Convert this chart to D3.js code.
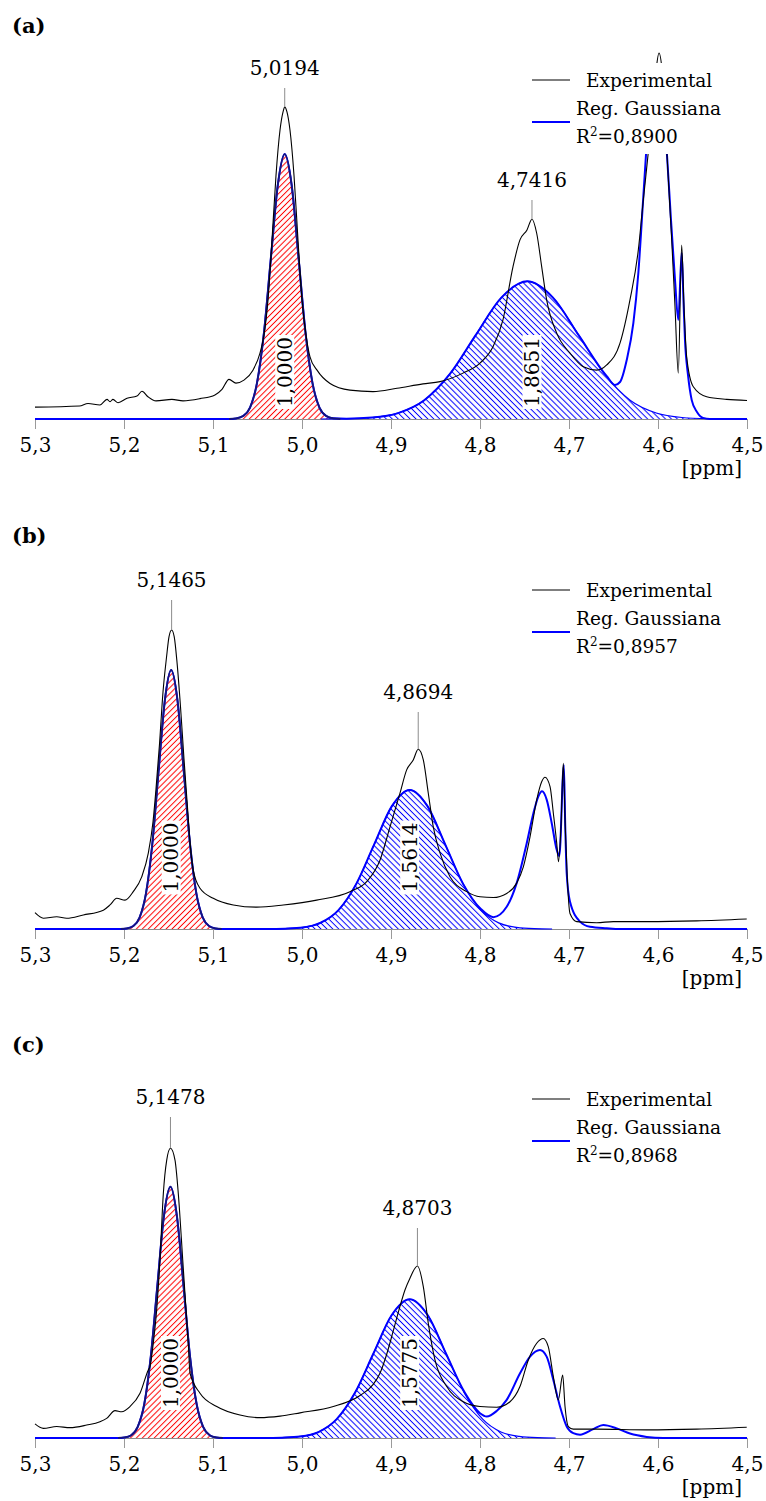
<!DOCTYPE html>
<html>
<head>
<meta charset="utf-8">
<script src="https://cdn.jsdelivr.net/npm/d3@7"></script>
<style>
  body { margin: 0; background: #fff; }
  svg { display: block; }
  text { font-family: "DejaVu Serif", serif; fill: #000; }
</style>
</head>
<body>
<svg id="chart" width="766" height="1501"></svg>
<script>
// ---- shared axis values -------------------------------------------------
const ppmTicks = [5.3, 5.2, 5.1, 5.0, 4.9, 4.8, 4.7, 4.6, 4.5];
const panelNames = ["(a)", "(b)", "(c)"];
const legendNames = ["Experimental", "Reg. Gaussiana"];
const r2Values = [0.8900, 0.8957, 0.8968];

// ---- panel (a) ----------------------------------------------------------
// [ppm, intensity]
const expA = [
  [5.300,3.2],[5.250,3.5],[5.2404,4.2],[5.227,3.8],[5.2191,5.3],[5.2157,4.7],[5.2124,5.3],
  [5.2067,4.4],[5.1966,5.6],[5.1854,6.2],[5.1798,7.5],[5.173,6.0],[5.164,4.9],[5.1461,5.3],
  [5.1337,4.9],[5.1146,5.5],[5.0978,6.5],[5.0899,8.0],[5.082,10.7],[5.0742,9.7],[5.0652,10.5],
  [5.0551,13.2],[5.0472,17.8],[5.0427,22.7],[5.0382,32.2],[5.0337,48.4],[5.0292,65.9],
  [5.0247,78.1],[5.0213,83.0],[5.0194,84.3],[5.0169,83.0],[5.0135,78.1],[5.009,65.9],
  [5.0045,48.4],[5.000,32.2],[4.9955,22.7],[4.991,16.8],[4.9831,13.2],[4.9685,9.6],
  [4.9461,7.8],[4.9202,7.4],[4.8933,8.3],[4.864,9.5],[4.8449,10.1],[4.8191,12.4],[4.800,15.1],
  [4.7854,19.5],[4.7742,26.8],[4.7629,41.2],[4.7551,48.4],[4.7472,51.1],[4.7416,54.0],
  [4.7363,50.2],[4.7307,41.2],[4.7251,32.2],[4.7138,23.2],[4.6989,17.8],[4.6839,14.1],
  [4.6689,13.2],[4.6576,14.6],[4.6427,20.5],[4.6315,32.2],[4.6221,45.7],[4.6165,59.2],
  [4.6112,71.4],[4.6067,83.5],[4.6022,94.3],[4.5989,98.9],[4.5955,94.3],[4.5921,80.8],
  [4.5899,71.4],[4.5846,48.4],[4.5809,30.4],[4.5772,12.4],[4.5734,47.0],[4.5708,30.4],
  [4.5678,16.8],[4.5603,8.7],[4.5453,6.0],[4.5228,5.3],[4.500,5.0]
];
const fitA = [
  [5.300,0],[5.100,0],[5.0818,0],[5.074,0.16],[5.0662,0.8],[5.0584,3.1],[5.0506,9.7],
  [5.0428,23.2],[5.035,43.4],[5.0272,63.2],[5.0194,71.6],[5.0116,63.2],[5.0038,43.4],
  [4.996,23.2],[4.9882,9.7],[4.9804,3.1],[4.9726,0.8],[4.9648,0.2],[4.950,0.1],[4.921,0.4],
  [4.892,1.6],[4.863,5.0],[4.834,12.1],[4.805,22.6],[4.776,32.8],[4.747,37.2],[4.718,32.8],
  [4.689,22.6],[4.6576,11.6],[4.6483,9.2],[4.6427,10.0],[4.6352,15.9],[4.6277,25.9],
  [4.6221,39.4],[4.6172,57.4],[4.6135,71.4],[4.609,86.0],[4.6017,91.6],[4.5944,86.0],
  [4.5899,71.4],[4.5854,53.8],[4.5809,37.6],[4.5772,26.8],[4.5734,44.9],[4.5714,32.2],
  [4.5697,21.4],[4.5663,11.9],[4.5621,5.1],[4.5562,1.9],[4.5494,0.3],[4.5416,0],[4.500,0]
];
const compA1 = [
  [5.0818,0],[5.074,0.16],[5.0662,0.8],[5.0584,3.1],[5.0506,9.7],[5.0428,23.2],[5.035,43.4],
  [5.0272,63.2],[5.0194,71.6],[5.0116,63.2],[5.0038,43.4],[4.996,23.2],[4.9882,9.7],
  [4.9804,3.1],[4.9726,0.8],[4.9648,0.16],[4.957,0]
];
const compA2 = [
  [4.979,0],[4.950,0.08],[4.921,0.41],[4.892,1.63],[4.863,5.0],[4.834,12.1],[4.805,22.6],
  [4.776,32.8],[4.747,37.2],[4.718,32.8],[4.689,22.6],[4.660,12.1],[4.631,5.0],[4.602,1.63],
  [4.573,0.41],[4.544,0.08],[4.515,0]
];
const peaksA = [5.0194, 4.7416];
const areaPpmA = [5.0194, 4.7416];
const areasA = [1.0000, 1.8651];

// ---- panel (b) ----------------------------------------------------------
const expB = [
  [5.300,4.4],[5.2906,2.9],[5.2756,3.3],[5.2644,2.9],[5.2457,3.8],[5.2232,5.1],[5.2157,6.5],
  [5.2082,8.3],[5.1989,7.8],[5.1896,10.1],[5.1801,14.1],[5.1727,20.5],[5.1674,29.0],
  [5.1640,38.0],[5.1601,50.0],[5.1562,64.0],[5.1522,73.5],[5.1494,79.0],[5.1465,80.8],
  [5.1436,79.0],[5.1404,72.0],[5.1365,60.0],[5.1326,46.0],[5.1287,33.0],[5.1253,22.0],
  [5.1222,15.9],[5.1146,11.0],[5.0997,8.3],[5.0772,6.5],[5.0509,5.9],[5.021,6.5],
  [4.9835,7.8],[4.9461,10.1],[4.9273,12.8],[4.9124,18.6],[4.9011,27.6],[4.8899,36.7],
  [4.8824,43.0],[4.875,45.7],[4.8694,48.6],[4.8637,45.7],[4.8581,36.7],[4.8525,27.6],
  [4.8449,20.5],[4.8337,14.1],[4.8149,10.1],[4.800,8.7],[4.7851,8.5],[4.770,9.6],
  [4.7588,12.4],[4.7513,16.8],[4.7438,24.9],[4.7363,34.9],[4.7307,39.8],[4.727,41.0],
  [4.7213,38.5],[4.7176,31.3],[4.7138,23.2],[4.7118,18.2],[4.709,27.6],[4.7064,44.8],
  [4.7042,27.6],[4.702,14.1],[4.6989,4.2],[4.6913,2.0],[4.6689,1.7],[4.6502,2.0],
  [4.6127,2.0],[4.5565,2.2],[4.5003,2.7]
];
const fitB = [
  [5.300,0],[5.2038,0],[5.1967,0.15],[5.1896,0.8],[5.1825,3.1],[5.1754,9.5],[5.1683,22.7],
  [5.1612,42.5],[5.1541,61.8],[5.147,70.0],[5.1399,61.8],[5.1328,42.5],[5.1257,22.7],
  [5.1186,9.5],[5.1115,3.1],[5.1044,0.8],[5.0973,0.15],[5.0902,0],[5.039,0],[5.019,0.1],
  [4.999,0.4],[4.979,1.7],[4.959,5.1],[4.939,12.2],[4.919,22.8],[4.899,33.2],[4.879,37.6],
  [4.859,33.2],[4.839,22.8],[4.819,12.2],[4.799,5.4],[4.785,3.2],[4.770,6.0],[4.7588,12.4],
  [4.7475,23.2],[4.740,31.3],[4.7345,35.8],[4.7303,37.2],[4.725,34.9],[4.7194,28.6],
  [4.7138,21.4],[4.7109,19.7],[4.7058,44.3],[4.7042,27.6],[4.7026,15.1],[4.699,7.5],
  [4.6876,2.0],[4.6764,0.6],[4.6576,0.2],[4.6427,0],[4.500,0]
];
const compB1 = [
  [5.2038,0],[5.1967,0.15],[5.1896,0.78],[5.1825,3.1],[5.1754,9.5],[5.1683,22.7],[5.1612,42.5],
  [5.1541,61.8],[5.147,70.0],[5.1399,61.8],[5.1328,42.5],[5.1257,22.7],[5.1186,9.5],
  [5.1115,3.1],[5.1044,0.78],[5.0973,0.15],[5.0902,0]
];
const compB2 = [
  [5.039,0],[5.019,0.08],[4.999,0.42],[4.979,1.65],[4.959,5.1],[4.939,12.2],[4.919,22.8],
  [4.899,33.2],[4.879,37.6],[4.859,33.2],[4.839,22.8],[4.819,12.2],[4.799,5.1],[4.779,1.65],
  [4.759,0.42],[4.739,0.08],[4.719,0]
];
const peaksB = [5.1465, 4.8694];
const areaPpmB = [5.147, 4.879];
const areasB = [1.0000, 1.5614];

// ---- panel (c) ----------------------------------------------------------
const expC = [
  [5.300,3.8],[5.2906,2.6],[5.2756,3.1],[5.2607,2.8],[5.2419,3.5],[5.227,4.4],[5.2195,5.3],
  [5.2101,7.4],[5.2026,7.1],[5.1933,8.5],[5.182,12.1],[5.1727,18.4],[5.1708,19.3],
  [5.1671,25.6],[5.1633,34.6],[5.1596,48.1],[5.1558,66.1],[5.152,75.1],[5.1478,78.3],
  [5.1427,75.1],[5.139,66.1],[5.134,48.1],[5.1303,34.6],[5.1278,25.6],[5.1258,17.5],
  [5.1146,12.1],[5.0958,8.5],[5.0697,6.2],[5.0472,5.5],[5.0247,5.9],[5.0022,6.8],
  [4.9648,8.5],[4.9348,11.5],[4.920,14.5],[4.9124,17.5],[4.905,22.5],[4.8974,29.0],
  [4.890,35.5],[4.8843,40.0],[4.8787,43.2],[4.8703,46.5],[4.8637,40.9],[4.8581,31.0],
  [4.8506,21.1],[4.8374,13.9],[4.8188,9.8],[4.800,8.5],[4.7813,8.3],[4.7663,9.8],
  [4.7551,13.9],[4.7457,21.1],[4.7363,25.6],[4.7289,26.9],[4.7233,24.7],[4.7176,16.6],
  [4.712,10.3],[4.7071,17.0],[4.7045,8.6],[4.7007,3.1],[4.6952,2.4],[4.6689,2.4],
  [4.6127,2.2],[4.5565,2.4],[4.5003,2.9]
];
const fitC = [
  [5.300,0],[5.2066,0],[5.1993,0.15],[5.1919,0.75],[5.1846,3.0],[5.1772,9.2],[5.1699,22.0],
  [5.1625,41.2],[5.1552,59.9],[5.1478,67.9],[5.1405,59.9],[5.1331,41.2],[5.1258,22.0],
  [5.1184,9.2],[5.1111,3.0],[5.1037,0.75],[5.0964,0.15],[5.089,0],[5.043,0],[5.0225,0.1],
  [5.002,0.4],[4.9815,1.6],[4.961,5.1],[4.9405,12.2],[4.920,22.7],[4.8995,33.1],[4.879,37.5],
  [4.8585,33.1],[4.838,22.7],[4.8175,12.4],[4.800,6.7],[4.7925,5.8],[4.7813,7.3],
  [4.770,10.3],[4.755,17.5],[4.7438,22.0],[4.7326,23.8],[4.7251,22.0],[4.7176,15.7],
  [4.7101,8.5],[4.7026,3.1],[4.6952,1.3],[4.6876,0.9],[4.6727,2.4],[4.6615,3.5],
  [4.6464,2.6],[4.6315,1.2],[4.6127,0.3],[4.594,0],[4.500,0]
];
const compC1 = [
  [5.2066,0],[5.1993,0.15],[5.1919,0.75],[5.1846,3.0],[5.1772,9.2],[5.1699,22.0],[5.1625,41.2],
  [5.1552,59.9],[5.1478,67.9],[5.1405,59.9],[5.1331,41.2],[5.1258,22.0],[5.1184,9.2],
  [5.1111,3.0],[5.1037,0.75],[5.0964,0.15],[5.089,0]
];
const compC2 = [
  [5.043,0],[5.0225,0.08],[5.002,0.42],[4.9815,1.64],[4.961,5.1],[4.9405,12.2],[4.920,22.7],
  [4.8995,33.1],[4.879,37.5],[4.8585,33.1],[4.838,22.7],[4.8175,12.2],[4.797,5.1],
  [4.7765,1.64],[4.756,0.42],[4.7355,0.08],[4.715,0]
];
const peaksC = [5.1478, 4.8703];
const areaPpmC = [5.1478, 4.879];
const areasC = [1.0000, 1.5775];

// ---- layout -------------------------------------------------------------
const panelOffsets = [0, 510, 1019];
const BASE = 419;          // baseline y inside a panel
const PLOT_H = 370;        // pixels for 100 intensity units
const peakLabelY = [[68, 180], [70, 182], [78, 189]];
const areaLabelY = [372, 347.5, 354];

const panels = [
  { exp: expA, fit: fitA, comps: [compA1, compA2], peaks: peaksA, areaPpm: areaPpmA, areas: areasA },
  { exp: expB, fit: fitB, comps: [compB1, compB2], peaks: peaksB, areaPpm: areaPpmB, areas: areasB },
  { exp: expC, fit: fitC, comps: [compC1, compC2], peaks: peaksC, areaPpm: areaPpmC, areas: areasC }
];

const comma = s => s.replace(".", ",");
const fmt1 = v => comma(d3.format(".1f")(v));
const fmt4 = v => comma(d3.format(".4f")(v));

const svg = d3.select("#chart");
const defs = svg.append("defs");

function hatch(id, color, angle) {
  const s = 4.2;
  const p = defs.append("pattern")
    .attr("id", id)
    .attr("patternUnits", "userSpaceOnUse")
    .attr("width", s).attr("height", s)
    .attr("patternTransform", `rotate(${angle})`);
  p.append("line")
    .attr("x1", s / 2).attr("y1", -1).attr("x2", s / 2).attr("y2", s + 1)
    .attr("stroke", color).attr("stroke-width", 1);
}
hatch("hatchRed", "#ff0000", 45);
hatch("hatchBlue", "#0000ff", -45);
const compStyle = [
  { fill: "url(#hatchRed)", stroke: "#15157a", width: 1.8 },
  { fill: "url(#hatchBlue)", stroke: "#0000ff", width: 1.2 }
];

const x = d3.scaleLinear().domain([5.3, 4.5]).range([35, 747]);
const y = d3.scaleLinear().domain([0, 100]).range([BASE, BASE - PLOT_H]);

const line = d3.line().x(d => x(d[0])).y(d => y(d[1])).curve(d3.curveMonotoneX);
const area = d3.area().x(d => x(d[0])).y0(y(0)).y1(d => y(d[1])).curve(d3.curveMonotoneX);

panels.forEach((P, i) => {
  const g = svg.append("g").attr("transform", `translate(0,${panelOffsets[i]})`);

  // title
  g.append("text").attr("x", 12).attr("y", 33)
    .style("font-size", "21px").style("font-weight", "bold")
    .text(panelNames[i]);

  // x axis
  const ax = g.append("g").attr("transform", `translate(0,${BASE})`)
    .call(d3.axisBottom(x).tickValues(ppmTicks).tickFormat(fmt1)
      .tickSize(10).tickSizeOuter(0).tickPadding(9));
  ax.select(".domain").attr("stroke", "#8c8c8c");
  ax.selectAll(".tick line").attr("stroke", "#9a9a9a");
  ax.selectAll(".tick text")
    .style("font-family", '"DejaVu Serif", serif')
    .style("font-size", "20px").attr("fill", "#000");

  g.append("text").attr("x", 742).attr("y", BASE + 56)
    .attr("text-anchor", "end").style("font-size", "20px").text("[ppm]");

  // hatched fitted components
  P.comps.forEach((c, k) => {
    g.append("path").datum(c).attr("d", area)
      .attr("fill", compStyle[k].fill).attr("stroke", "none");
  });
  g.append("path").datum(P.comps[1]).attr("d", line)
    .attr("fill", "none").attr("stroke", compStyle[1].stroke)
    .attr("stroke-width", compStyle[1].width);

  // total Gaussian regression
  g.append("path").datum(P.fit).attr("d", line)
    .attr("fill", "none").attr("stroke", "#0000ff").attr("stroke-width", 2)
    .attr("stroke-linejoin", "round");

  g.append("path").datum(P.comps[0]).attr("d", line)
    .attr("fill", "none").attr("stroke", compStyle[0].stroke)
    .attr("stroke-width", compStyle[0].width);

  // experimental spectrum
  g.append("path").datum(P.exp).attr("d", line)
    .attr("fill", "none").attr("stroke", "#000").attr("stroke-width", 1.1)
    .attr("stroke-linejoin", "round");

  // chemical-shift annotations
  P.peaks.forEach((p, k) => {
    const apex = d3.least(P.exp, d => Math.abs(d[0] - p));
    const ly = peakLabelY[i][k];
    g.append("line")
      .attr("x1", x(p)).attr("x2", x(p))
      .attr("y1", ly + 20).attr("y2", y(apex[1]))
      .attr("stroke", "#8c8c8c").attr("stroke-width", 1);
    g.append("text").attr("x", x(p)).attr("y", ly + 7)
      .attr("text-anchor", "middle").style("font-size", "20px")
      .text(fmt4(p));
  });

  // relative integrals
  P.areas.forEach((a, k) => {
    const lg = g.append("g")
      .attr("transform", `translate(${x(P.areaPpm[k])},${areaLabelY[i]}) rotate(-90)`);
    const bg = lg.append("rect").attr("fill", "#fff");
    const t = lg.append("text").attr("text-anchor", "middle").attr("dy", "0.36em")
      .style("font-size", "20px").text(fmt4(a));
    const len = t.node().getComputedTextLength();
    bg.attr("x", -len / 2 - 2).attr("y", -9.5).attr("width", len + 4).attr("height", 19);
  });

  // legend
  const lgd = g.append("g");
  lgd.append("rect").attr("x", 527).attr("y", 63).attr("width", 198).attr("height", 91)
    .attr("fill", "#fff");
  lgd.append("line").attr("x1", 532).attr("x2", 570).attr("y1", 80).attr("y2", 80)
    .attr("stroke", "#000").attr("stroke-width", 1.1);
  lgd.append("line").attr("x1", 532).attr("x2", 570).attr("y1", 122).attr("y2", 122)
    .attr("stroke", "#0000ff").attr("stroke-width", 2);
  lgd.append("text").attr("x", 586).attr("y", 86.5).style("font-size", "18.5px")
    .text(legendNames[0]);
  lgd.append("text").attr("x", 576).attr("y", 115).style("font-size", "18.5px")
    .text(legendNames[1]);
  const r2 = lgd.append("text").attr("x", 576).attr("y", 142.5).style("font-size", "18.5px");
  r2.append("tspan").text("R");
  r2.append("tspan").attr("dy", -7).style("font-size", "12px").text("2");
  r2.append("tspan").attr("dy", 7).text("=" + fmt4(r2Values[i]));
});
</script>
</body>
</html>
